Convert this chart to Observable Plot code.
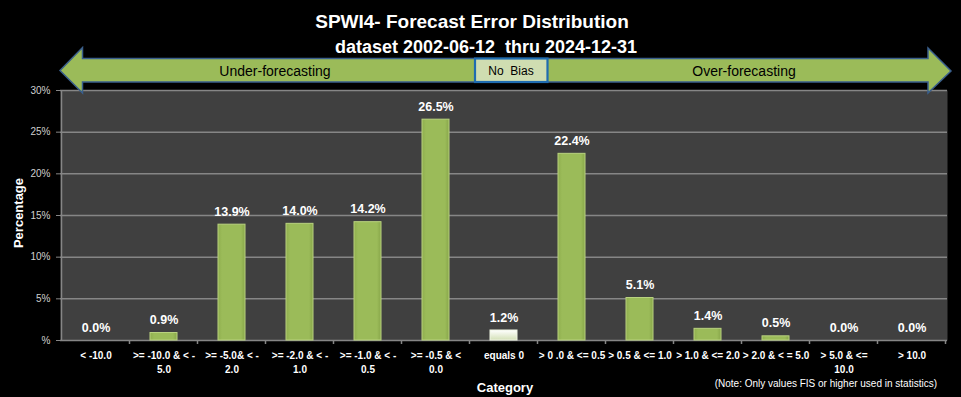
<!DOCTYPE html>
<html><head><meta charset="utf-8">
<script src="https://cdn.jsdelivr.net/npm/d3@7"></script>
<script src="https://cdn.jsdelivr.net/npm/@observablehq/plot@0.6"></script>
<style>
html,body{margin:0;padding:0;background:#000;}
#chart{position:relative;width:961px;height:397px;}
svg{display:block;}
</style>
</head><body><div id="chart"></div>
<script>
const categories = ["< -10.0", ">= -10.0 & < -5.0", ">= -5.0& < -2.0", ">= -2.0 & < -1.0", ">= -1.0 & < -0.5", ">= -0.5 & < 0.0", "equals 0", "> 0 .0 & <= 0.5", "> 0.5 & <= 1.0", "> 1.0 & <= 2.0", "> 2.0 & < = 5.0", "> 5.0 & <= 10.0", "> 10.0"];
const tickLabels = ["< -10.0", ">= -10.0 & < -\n5.0", ">= -5.0& < -\n2.0", ">= -2.0 & < -\n1.0", ">= -1.0 & < -\n0.5", ">= -0.5 & <\n0.0", "equals 0", "> 0 .0 & <= 0.5", "> 0.5 & <= 1.0", "> 1.0 & <= 2.0", "> 2.0 & < = 5.0", "> 5.0 & <=\n10.0", "> 10.0"];
const percentages = [0.0, 0.9, 13.9, 14.0, 14.2, 26.5, 1.2, 22.4, 5.1, 1.4, 0.5, 0.0, 0.0];
const yTicks = [0, 5, 10, 15, 20, 25, 30];
const title1 = "SPWI4- Forecast Error Distribution";
const title2 = "dataset 2002-06-12  thru 2024-12-31";
const arrowLabels = ["Under-forecasting", "No  Bias", "Over-forecasting"];
const xTitle = "Category";
const yTitle = "Percentage";
const note = "(Note: Only values FIS or higher used in statistics)";

const data = categories.map((c, i) => ({category: c, label: tickLabels[i], value: percentages[i]}));
const labelOf = new Map(data.map(d => [d.category, d.label]));
const FONT = "'Liberation Sans',Arial,sans-serif";
const GRID = "#868686";

const plot = Plot.plot({
  width: 961, height: 397,
  marginTop: 90, marginBottom: 57, marginLeft: 60, marginRight: 14,
  style: {background: "#000", fontFamily: FONT, overflow: "visible"},
  x: {domain: categories, paddingInner: 0.6, paddingOuter: 0.3, axis: null},
  y: {domain: [0, 30], axis: null},
  marks: [
    Plot.frame({fill: "#404040", stroke: null}),
    Plot.gridY(yTicks.filter(t => t > 0), {stroke: GRID, strokeOpacity: 1, strokeWidth: 1.5}),
    Plot.ruleY([0], {stroke: GRID, strokeWidth: 1.5}),
    Plot.axisY(yTicks, {tickSize: 4, tickPadding: 6, stroke: GRID, fill: "#d0d0d0", fontSize: 10,
      tickFormat: d => d === 0 ? "%" : d + "%", label: null}),
    Plot.axisX({tickSize: 0, tickPadding: 9, fill: "#fff", fontSize: 10, fontWeight: "bold",
      lineHeight: 1.4, tickFormat: d => labelOf.get(d), label: null}),
    Plot.barY(data, {x: "category", y: "value",
      fill: d => d.category === "equals 0" ? "url(#gPale)" : "url(#gGreen)",
      stroke: d => d.category === "equals 0" ? "#eef3e2" : "#b9d27f", strokeWidth: 1}),
    Plot.text(data, {x: "category", y: "value", text: d => d.value.toFixed(1) + "%",
      dy: -9, lineAnchor: "bottom", fill: "#fff", fontSize: 12.5, fontWeight: "bold"})
  ]
});

document.getElementById("chart").appendChild(plot);
const svg = d3.select(plot);
const defs = svg.insert("defs", ":first-child");
const g1 = defs.append("linearGradient").attr("id", "gGreen").attr("x1", 0).attr("x2", 1).attr("y1", 0).attr("y2", 0);
g1.append("stop").attr("offset", "0").attr("stop-color", "#8fae4e");
g1.append("stop").attr("offset", "0.15").attr("stop-color", "#9bbb59");
g1.append("stop").attr("offset", "0.85").attr("stop-color", "#9bbb59");
g1.append("stop").attr("offset", "1").attr("stop-color", "#88a64a");
const g2 = defs.append("linearGradient").attr("id", "gPale").attr("x1", 0).attr("x2", 0).attr("y1", 0).attr("y2", 1);
g2.append("stop").attr("offset", "0").attr("stop-color", "#ffffff");
g2.append("stop").attr("offset", "1").attr("stop-color", "#d3e0b6");

// axis lines and category boundary ticks from the plot scales
const xs = plot.scale("x"), ys = plot.scale("y");
const step = xs.step, bw = xs.bandwidth;
const y0 = ys.apply(0), yTop = ys.apply(30);
const left = xs.apply(categories[0]) - (step - bw) / 2;
const deco = svg.append("g");
deco.append("line").attr("x1", left).attr("x2", left).attr("y1", yTop).attr("y2", y0).attr("stroke", GRID).attr("stroke-width", 1.5);
for (let i = 1; i <= categories.length; i++) {
  const x = left + step * i;
  deco.append("line").attr("x1", x).attr("x2", x).attr("y1", y0).attr("y2", y0 + 4).attr("stroke", GRID).attr("stroke-width", 1.5);
}

// titles
const T = svg.append("g").attr("font-family", FONT).attr("fill", "#fff").attr("text-anchor", "middle");
T.append("text").attr("x", 472).attr("y", 28).attr("font-size", 19).attr("font-weight", "bold").text(title1);
T.append("text").attr("x", 486).attr("y", 53).attr("font-size", 18).attr("font-weight", "bold").style("white-space", "pre").text(title2);
T.append("text").attr("x", 18).attr("y", 213).attr("transform", "rotate(-90,18,213)").attr("dy", "0.35em").attr("font-size", 13).attr("font-weight", "bold").text(yTitle);
T.append("text").attr("x", 505).attr("y", 387).attr("dy", "0.35em").attr("font-size", 13).attr("font-weight", "bold").text(xTitle);
T.append("text").attr("x", 937).attr("y", 383).attr("dy", "0.35em").attr("text-anchor", "end").attr("font-size", 10).text(note);

// bias arrow
const A = svg.append("g");
A.append("path").attr("d", "M60,70.5 L82.5,47.5 L82.5,58.5 L928,58.5 L928,48 L951,71 L928,93 L928,82 L82.5,82 L82.5,93 Z")
  .attr("fill", "#9bbb59").attr("stroke", "#3a5f8c").attr("stroke-width", 1.5).attr("stroke-linejoin", "miter");
A.append("rect").attr("x", 475).attr("y", 58.5).attr("width", 72.5).attr("height", 23.5)
  .attr("fill", "#cfddb1").attr("stroke", "#1f6cb0").attr("stroke-width", 2.2);
const AT = A.append("g").attr("font-family", FONT).attr("fill", "#000").attr("text-anchor", "middle");
AT.append("text").attr("x", 275).attr("y", 71).attr("dy", "0.35em").attr("font-size", 14).text(arrowLabels[0]);
AT.append("text").attr("x", 511).attr("y", 71).attr("dy", "0.35em").attr("font-size", 12).style("white-space", "pre").text(arrowLabels[1]);
AT.append("text").attr("x", 744).attr("y", 71).attr("dy", "0.35em").attr("font-size", 14).text(arrowLabels[2]);
</script>
</body></html>
